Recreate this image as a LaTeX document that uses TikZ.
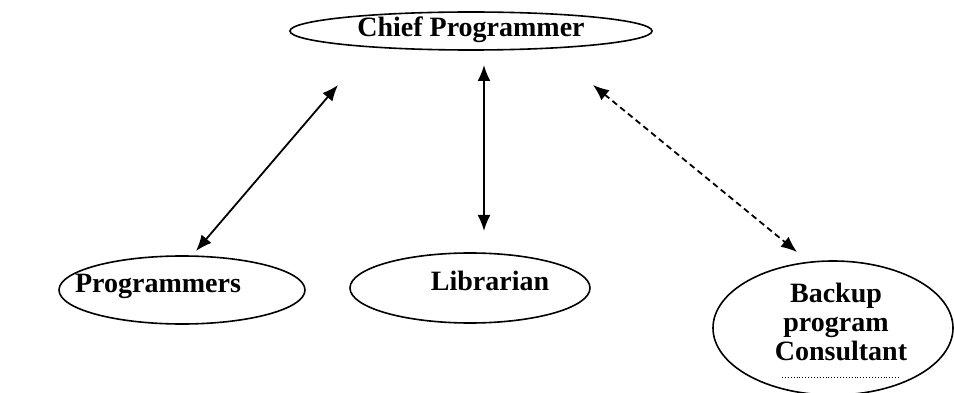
\documentclass[tikz,border=0pt]{standalone}
\usepackage{fontspec}
\setmainfont{Liberation Serif}
\usetikzlibrary{shapes.geometric,arrows.meta}
\begin{document}
\begin{tikzpicture}[x=1pt,y=-1pt,
  role/.style={draw, ellipse, line width=1.6pt, inner sep=0pt},
  lbl/.style={font=\bfseries\fontsize{28}{30}\selectfont, inner sep=0pt, anchor=base, align=center},
  link/.style={line width=1.8pt, {Latex[length=16pt,width=13pt]}-{Latex[length=16pt,width=13pt]}},
  weaklink/.style={link, dash pattern=on 6pt off 4pt}]
  \useasboundingbox[fill=white] (0,0) rectangle (954,393);

  % role ellipses
  \node[role, minimum width=362pt, minimum height=38pt] (chief) at (471,31) {};
  \node[role, minimum width=246pt, minimum height=68pt] (prog) at (182,290) {};
  \node[role, minimum width=240pt, minimum height=70pt] (lib) at (470,288) {};
  \node[role, minimum width=240pt, minimum height=134pt] (backup) at (833,328) {};

  % role names
  \node[lbl] (chiefname) at (471,37) {Chief Programmer};
  \node[lbl] (progname) at (158,292) {Programmers};
  \node[lbl] (libname) at (490,290) {Librarian};
  \node[lbl] (bname1) at (836,302) {Backup};
  \node[lbl] (bname2) at (836,331) {program};
  \node[lbl] (bname3) at (841,360) {Consultant};
  \draw[line width=0.9pt, dotted] (782,377) -- (900,377);

  % connector end points
  \coordinate (c1) at (338,85);
  \coordinate (p1) at (196,251);
  \coordinate (c2) at (484,65);
  \coordinate (l1) at (484,231);
  \coordinate (c3) at (593,85);
  \coordinate (b1) at (797,252);

  \draw[link] (c1) -- (p1);
  \draw[link] (c2) -- (l1);
  \draw[weaklink] (c3) -- (b1);
\end{tikzpicture}
\end{document}
